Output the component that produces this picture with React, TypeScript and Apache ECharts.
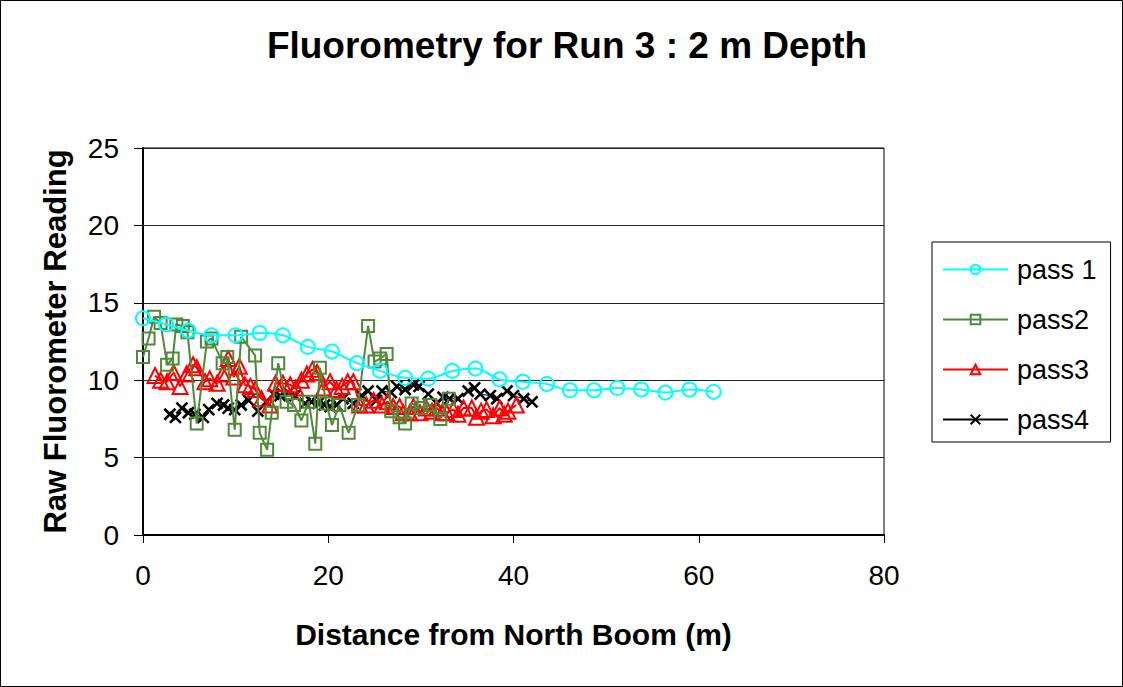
import React, { useEffect, useRef } from "react";
import * as echarts from "echarts";

const titleText = "Fluorometry for Run 3 : 2 m Depth";
const xAxisName = "Distance from North Boom (m)";
const yAxisName = "Raw Fluorometer Reading";
const seriesNames = ["pass 1", "pass2", "pass3", "pass4"];

const pass1Dist = [0, 2.5, 4.9, 7.4, 10.0, 12.6, 15.1, 17.8, 20.4, 23.1, 25.6, 28.3, 30.8, 33.4, 35.9, 38.5, 41.0, 43.6, 46.1, 48.7, 51.2, 53.8, 56.4, 59.0, 61.6];
const pass1Val = [14.0, 13.6, 13.2, 12.9, 12.9, 13.05, 12.9, 12.15, 11.85, 11.1, 10.6, 10.15, 10.1, 10.6, 10.75, 10.05, 9.9, 9.75, 9.35, 9.35, 9.5, 9.4, 9.2, 9.4, 9.25];

const pass2Dist = [0, 0.6, 1.2, 1.9, 2.6, 3.2, 3.6, 4.3, 4.8, 5.8, 6.9, 7.4, 8.6, 9.1, 9.9, 10.6, 12.1, 12.6, 13.4, 13.9, 14.6, 15.5, 16.3, 17.1, 17.9, 18.6, 19.1, 19.8, 20.4, 21.2, 22.2, 23.2, 24.3, 25.0, 25.6, 26.3, 26.8, 27.7, 28.3, 29.0, 30.0, 31.0, 32.1, 33.0];
const pass2Val = [11.5, 12.7, 14.1, 13.7, 11.0, 11.4, 13.6, 13.5, 13.1, 7.2, 12.5, 12.7, 11.1, 11.5, 6.8, 12.8, 11.6, 6.6, 5.5, 7.9, 11.1, 8.6, 8.4, 7.4, 8.6, 5.9, 10.8, 8.5, 7.1, 8.4, 6.6, 8.4, 13.5, 11.2, 11.4, 11.7, 8.0, 7.6, 7.2, 8.5, 8.2, 8.4, 7.5, 8.8];

const pass3Dist = [1.3, 1.9, 2.6, 3.3, 4.0, 4.7, 5.4, 5.8, 6.7, 7.2, 8.0, 8.6, 9.2, 9.8, 10.4, 11.0, 11.6, 12.1, 12.8, 13.7, 14.3, 15.1, 15.9, 16.5, 17.1, 17.7, 18.3, 18.8, 19.5, 20.2, 20.9, 21.5, 22.1, 22.7, 23.4, 24.1, 24.9, 25.8, 26.4, 27.0, 27.7, 28.1, 28.8, 29.2, 29.9, 30.6, 31.2, 31.7, 32.3, 32.8, 33.5, 34.0, 34.6, 35.5, 36.0, 36.5, 37.1, 37.8, 38.5, 39.0, 39.4, 40.3];
const pass3Val = [10.3, 10.0, 9.9, 10.5, 9.6, 10.4, 11.0, 10.8, 9.9, 10.1, 9.8, 10.4, 11.4, 10.2, 10.9, 9.7, 9.6, 9.4, 8.8, 8.4, 9.8, 9.8, 9.7, 9.5, 10.0, 10.4, 10.7, 10.5, 9.5, 9.9, 9.4, 9.6, 9.9, 9.9, 8.4, 8.4, 8.7, 8.4, 8.6, 8.3, 8.3, 7.9, 7.9, 8.3, 7.9, 8.2, 8.0, 8.2, 7.9, 7.9, 8.1, 7.8, 8.2, 8.2, 7.6, 8.0, 8.1, 7.7, 8.2, 7.8, 8.0, 8.4];

const pass4Dist = [2.9, 3.5, 4.2, 4.9, 5.6, 6.5, 7.1, 8.0, 8.7, 9.2, 9.9, 10.6, 11.4, 12.4, 13.3, 14.1, 14.8, 15.7, 16.4, 17.5, 18.2, 18.9, 19.6, 20.2, 20.9, 21.6, 22.7, 23.6, 24.3, 25.2, 25.8, 26.8, 27.4, 28.3, 29.2, 29.8, 30.8, 31.7, 32.4, 33.1, 34.0, 35.1, 35.8, 36.4, 37.5, 38.2, 39.3, 40.0, 41.1, 42.0];
const pass4Val = [7.8, 7.6, 8.2, 7.9, 7.8, 7.6, 8.1, 8.5, 8.4, 8.2, 8.1, 8.4, 8.7, 8.0, 8.6, 9.1, 9.0, 9.2, 9.0, 8.5, 8.6, 8.5, 8.4, 8.3, 8.4, 8.8, 8.5, 9.0, 9.3, 8.7, 9.3, 9.2, 9.6, 9.4, 9.7, 9.6, 9.1, 8.5, 8.9, 8.8, 8.8, 9.3, 9.5, 9.1, 9.0, 8.8, 9.3, 9.0, 8.8, 8.6];

const xTicks = { min: 0, max: 80, interval: 20 };
const yTicks = { min: 0, max: 25, interval: 5 };

const pairs = (xs: number[], ys: number[]) => xs.map((x, i) => [x, ys[i]]);

const FONT = "'Liberation Sans', Arial, sans-serif";

export default function App() {
  const ref = useRef<HTMLDivElement>(null);
  useEffect(() => {
    const chart = echarts.init(ref.current!, null, { renderer: "svg" });
    const colors = ["#00FFFF", "#4E8A3A", "#FF0000", "#000000"];
    const symbols = ["circle", "rect", "triangle", "path://M0,0L10,10M10,0L0,10"];
    const sizes = [14, 12, 15, 11];
    const borderWidths = [2, 2, 2, 2.6];
    const lineWidths = [2, 2, 2, 1];
    const data = [
      pairs(pass1Dist, pass1Val),
      pairs(pass2Dist, pass2Val),
      pairs(pass3Dist, pass3Val),
      pairs(pass4Dist, pass4Val),
    ];
    chart.setOption({
      animation: false,
      backgroundColor: "#FFFFFF",
      textStyle: { fontFamily: FONT },
      title: {
        text: titleText,
        left: 562,
        top: 22,
        textAlign: "center",
        textStyle: { fontFamily: FONT, fontSize: 37, fontWeight: "bold", color: "#000" },
      },
      legend: {
        orient: "vertical",
        left: 932,
        top: 242,
        padding: [14, 14, 9, 10],
        itemWidth: 65,
        itemHeight: 12,
        itemGap: 23,
        borderColor: "#000",
        borderWidth: 1,
        data: seriesNames,
        textStyle: { fontFamily: FONT, fontSize: 27, color: "#000", padding: [0, 0, 0, 4] },
      },
      grid: { left: 143, right: 239, top: 148, bottom: 152, show: true, borderColor: "#000", borderWidth: 1 },
      xAxis: {
        type: "value",
        min: xTicks.min,
        max: xTicks.max,
        interval: xTicks.interval,
        name: xAxisName,
        nameLocation: "middle",
        nameGap: 84,
        nameTextStyle: { fontFamily: FONT, fontSize: 30, fontWeight: "bold", color: "#000" },
        axisLine: { show: true, lineStyle: { color: "#000", width: 2 } },
        axisTick: { show: true, length: 8, inside: false, lineStyle: { color: "#000" } },
        axisLabel: { fontFamily: FONT, fontSize: 28, color: "#000", margin: 26 },
        splitLine: { show: false },
      },
      yAxis: {
        type: "value",
        min: yTicks.min,
        max: yTicks.max,
        interval: yTicks.interval,
        name: yAxisName,
        nameLocation: "middle",
        nameGap: 72,
        nameRotate: 90,
        nameTextStyle: { fontFamily: FONT, fontSize: 31, fontWeight: "bold", color: "#000" },
        axisLine: { show: true, lineStyle: { color: "#000", width: 2 } },
        axisTick: { show: true, length: 9, lineStyle: { color: "#000" } },
        axisLabel: { fontFamily: FONT, fontSize: 28, color: "#000", margin: 24 },
        splitLine: { show: true, lineStyle: { color: "#222", width: 1 } },
      },
      graphic: [
        {
          type: "rect",
          shape: { x: 0.5, y: 0.5, width: 1122, height: 686 },
          style: { fill: "none", stroke: "#000", lineWidth: 1 },
          silent: true,
        },
      ],
      series: data.map((d, i) => ({
        type: "line",
        name: seriesNames[i],
        data: d,
        symbol: symbols[i],
        symbolSize: sizes[i],
        showAllSymbol: true,
        smooth: i === 0 ? 0.3 : false,
        color: colors[i],
        lineStyle: { color: colors[i], width: lineWidths[i] },
        itemStyle: { color: "rgba(255,255,255,0)", borderColor: colors[i], borderWidth: borderWidths[i] },
        emphasis: { disabled: true },
        z: 10 - i,
      })),
    });
    return () => chart.dispose();
  }, []);
  return (
    <div
      ref={ref}
      style={{ position: "fixed", left: 0, top: 0, width: 1123, height: 687 }}
    />
  );
}
